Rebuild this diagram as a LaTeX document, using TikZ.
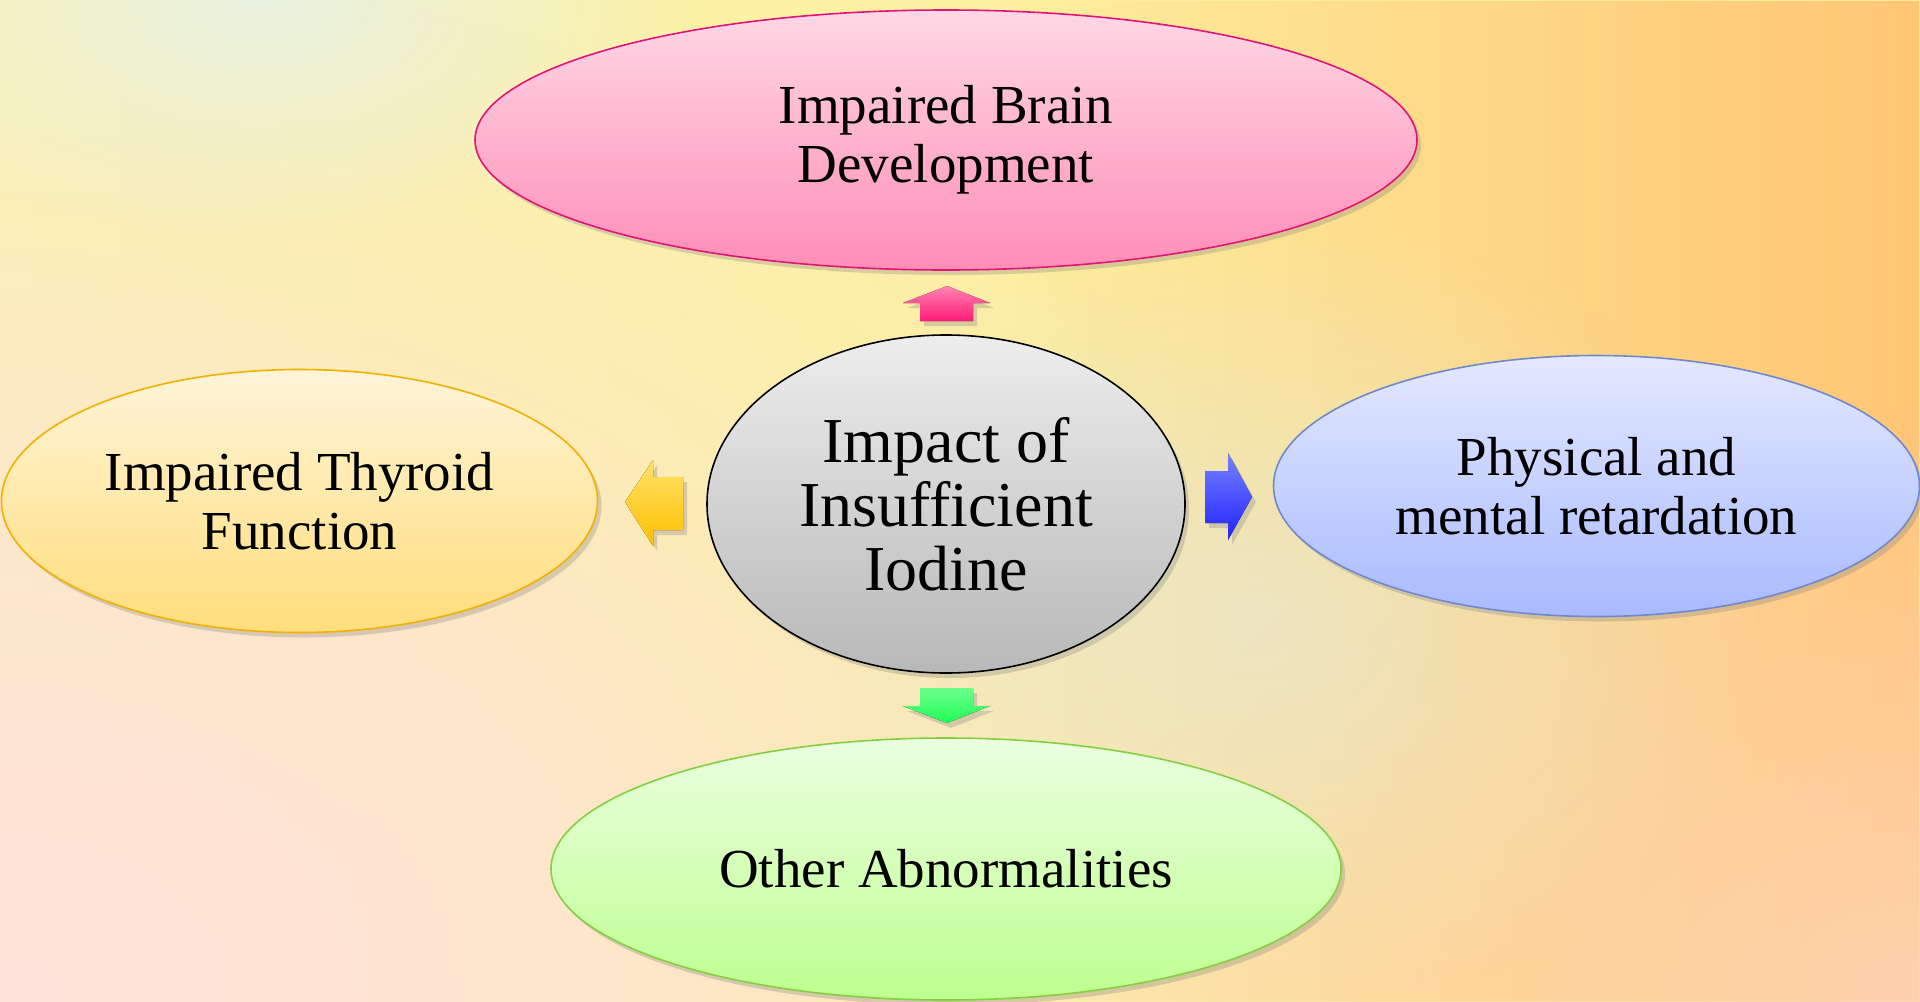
\documentclass[tikz,border=0pt]{standalone}
\usepackage{fontspec}
\setmainfont{Liberation Serif}
\usetikzlibrary{shapes.geometric,shadows,fadings}
\definecolor{bgL}{HTML}{FBF4B0}
\definecolor{bgM}{HTML}{FFEC92}
\definecolor{bgR}{HTML}{FFC676}
\definecolor{bgP}{HTML}{FFE2DA}
\definecolor{bgO}{HTML}{FFD2B4}
\definecolor{bgG}{HTML}{E9F2E2}
\definecolor{bgS}{HTML}{E8E6CC}
\definecolor{pinkT}{HTML}{FFD8E5}
\definecolor{pinkB}{HTML}{FF8DB6}
\definecolor{pinkD}{HTML}{E0157A}
\definecolor{pinkAT}{HTML}{FF84B2}
\definecolor{pinkAB}{HTML}{FF1A78}
\definecolor{grayT}{HTML}{EDEDED}
\definecolor{grayB}{HTML}{B8B8B8}
\definecolor{yelT}{HTML}{FFF4D8}
\definecolor{yelB}{HTML}{FFDE7C}
\definecolor{yelD}{HTML}{F2B000}
\definecolor{yelAT}{HTML}{FFE26A}
\definecolor{yelAB}{HTML}{FFC000}
\definecolor{bluT}{HTML}{E4E9FF}
\definecolor{bluB}{HTML}{A9BAFF}
\definecolor{bluD}{HTML}{6F88D0}
\definecolor{bluAT}{HTML}{7484FF}
\definecolor{bluAB}{HTML}{2222FF}
\definecolor{grnT}{HTML}{EBFFE0}
\definecolor{grnB}{HTML}{BEFF90}
\definecolor{grnD}{HTML}{82D040}
\definecolor{grnAT}{HTML}{6CFF8C}
\definecolor{grnAB}{HTML}{20FF55}
\tikzfading[name=softspot, inner color=transparent!0, outer color=transparent!100]
\tikzset{
  oval/.style={ellipse, draw, line width=0.8pt, inner sep=0pt, align=center,
    font=\fontsize{27.5}{29.5}\selectfont,
    drop shadow={opacity=0.3, shadow xshift=2pt, shadow yshift=-2.5pt}},
  blockarrow/.style={drop shadow={opacity=0.3, shadow xshift=2pt, shadow yshift=-2.5pt}}
}
\begin{document}
\begin{tikzpicture}[x=0.5pt,y=-0.5pt]
\useasboundingbox (0,0) rectangle (1920,1001);
% background
\begin{scope}
\clip (0,0) rectangle (1920,1001);
\fill[left color=bgL, right color=bgM] (0,0) rectangle (1920,1001);
\fill[bgR, path fading=west] (1000,0) rectangle (1920,1001);
\fill[bgP, path fading=softspot] (0,1001) ellipse (760pt and 520pt);
\fill[bgP, path fading=softspot, fill opacity=0.6] (0,1001) ellipse (500pt and 360pt);
\fill[bgO, path fading=softspot, fill opacity=0.9] (1920,1001) ellipse (420pt and 300pt);
\fill[bgG, path fading=softspot] (260,0) ellipse (220pt and 120pt);
\fill[bgS, path fading=softspot, fill opacity=0.8] (1260,620) ellipse (260pt and 200pt);
\end{scope}
\begin{scope}
\clip (0,0) rectangle (1920,1001);
% nodes
\node[oval, draw=pinkD, top color=pinkT, bottom color=pinkB,
  minimum width=471pt, minimum height=130pt] (top) at (946,140)
  {Impaired Brain\\Development};
\node[oval, draw=black, top color=grayT, bottom color=grayB,
  minimum width=239pt, minimum height=169pt,
  font=\fontsize{32}{32}\selectfont] (center) at (946,504)
  {Impact of\\Insufficient\\Iodine};
\node[oval, draw=yelD, top color=yelT, bottom color=yelB,
  minimum width=298pt, minimum height=131.5pt] (left) at (299.5,501)
  {Impaired Thyroid\\Function};
\node[oval, draw=bluD, top color=bluT, bottom color=bluB,
  minimum width=323pt, minimum height=130.5pt] (right) at (1596.5,486)
  {Physical and\\mental retardation};
\node[oval, draw=grnD, top color=grnT, bottom color=grnB,
  minimum width=395pt, minimum height=131pt] (bottom) at (946,869)
  {Other Abnormalities};
\end{scope}
% block arrows
\fill[blockarrow, top color=pinkAT, bottom color=pinkAB]
  (920,321) -- (920,303) -- (903,303) -- (947,286) -- (990,303) -- (973,303) -- (973,321) -- cycle;
\fill[blockarrow, top color=grnAT, bottom color=grnAB]
  (920,688) -- (973,688) -- (973,706) -- (990,706) -- (947,723) -- (903,706) -- (920,706) -- cycle;
\fill[blockarrow, top color=yelAT, bottom color=yelAB]
  (683,477) -- (653,477) -- (653,460) -- (625,502) -- (653,546) -- (653,530) -- (683,530) -- cycle;
\fill[blockarrow, top color=bluAT, bottom color=bluAB]
  (1205,471) -- (1228,471) -- (1228,453) -- (1252,497) -- (1228,540) -- (1228,523) -- (1205,523) -- cycle;
\end{tikzpicture}
\end{document}
